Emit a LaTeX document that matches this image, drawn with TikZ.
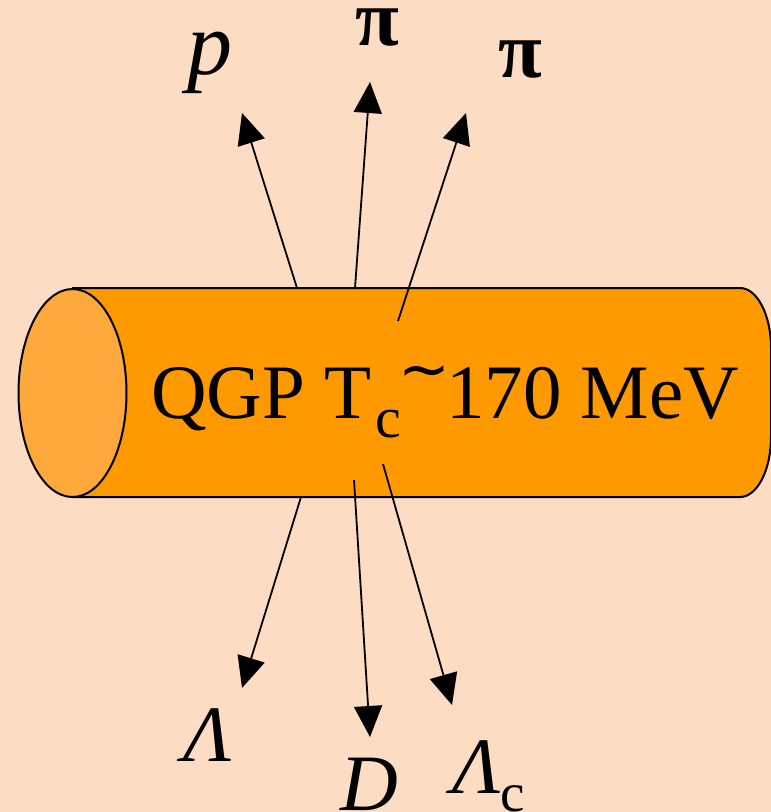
\documentclass[tikz,border=0pt]{standalone}
\usepackage{fontspec}
\setmainfont{Liberation Serif}
\newfontfamily\symfont{DejaVu Sans}
\usetikzlibrary{arrows.meta}
\definecolor{bgpeach}{RGB}{252,220,194}
\definecolor{qgporange}{RGB}{255,153,0}
\definecolor{capcolor}{RGB}{255,168,60}

\begin{document}
\begin{tikzpicture}[x=1pt, y=-1pt,
  every node/.style={inner sep=0pt},
  lbl/.style={font=\fontsize{80}{80}\selectfont\itshape, anchor=base},
  pion/.style={font=\fontsize{80}{80}\selectfont\bfseries, anchor=base},
  arrow/.style={-{Triangle[length=31pt, width=28pt]}, line width=1.8pt}
]
\fill[bgpeach] (0,0) rectangle (771,812);
\useasboundingbox (0,0) rectangle (771,812);
% cylinder body and front cap
\draw[fill=qgporange, line width=2pt] (72,288) -- (740,288)
  arc[start angle=-90, end angle=0, x radius=31, y radius=60] -- (771,437)
  arc[start angle=0, end angle=90, x radius=31, y radius=60] -- (72,497);
\draw[fill=capcolor, line width=2pt] (72.5,393) ellipse[x radius=54, y radius=104];
\node[anchor=base west, font=\fontsize{77}{77}\selectfont] (qgp) at (151,418)
  {QGP T\kern4pt\raisebox{-19pt}{\fontsize{58}{58}\selectfont c}\kern-3pt\raisebox{28pt}{\symfont\fontsize{62}{62}\selectfont ∼}\kern-4pt170 MeV};

% outgoing particles, top
\node[lbl, font=\fontsize{90}{90}\selectfont\itshape] (p) at (210,74) {p};
\node[pion] (piA) at (377,45) {π};
\node[pion] (piB) at (520,77) {π};
\coordinate (pFrom) at (297,288);   \coordinate (pTo) at (242,113);
\coordinate (piAFrom) at (355,288); \coordinate (piATo) at (370,82);
\coordinate (piBFrom) at (398,321); \coordinate (piBTo) at (466,113);
\draw[arrow] (pFrom) -- (pTo);
\draw[arrow] (piAFrom) -- (piATo);
\draw[arrow] (piBFrom) -- (piBTo);

% outgoing particles, bottom
\node[lbl] (lam) at (208,761) {Λ};
\node[lbl] (d) at (369,810) {D};
\node[lbl, anchor=base west] (lamc) at (452,793)
  {Λ\raisebox{-18pt}{\upshape\fontsize{55}{55}\selectfont c}};
\coordinate (lamFrom) at (301,497);  \coordinate (lamTo) at (242,688);
\coordinate (dFrom) at (354,480);    \coordinate (dTo) at (370,737);
\coordinate (lamcFrom) at (383,464); \coordinate (lamcTo) at (452,705);
\draw[arrow] (lamFrom) -- (lamTo);
\draw[arrow] (dFrom) -- (dTo);
\draw[arrow] (lamcFrom) -- (lamcTo);
\end{tikzpicture}
\end{document}
